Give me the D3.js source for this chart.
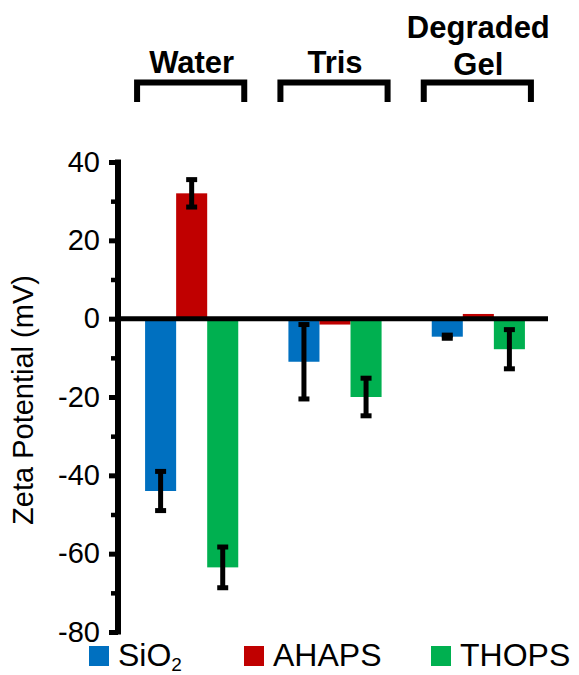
<!DOCTYPE html>
<html>
<head>
<meta charset="utf-8">
<script src="https://cdn.jsdelivr.net/npm/d3@7"></script>
<style>
html,body{margin:0;padding:0;background:#fff;}
svg{display:block;}
text{font-family:"Liberation Sans", Arial, sans-serif;fill:#000;}
</style>
</head>
<body>
<svg id="chart" width="579" height="675"></svg>
<script>
// ---- data ----
const groups = ["Water", "Tris", "Degraded Gel"];
const groupLines = [["Water"], ["Tris"], ["Degraded", "Gel"]];
const seriesNames = ["SiO2", "AHAPS", "THOPS"];
const seriesColors = ["#0070C0", "#C00000", "#00B050"];
const sio2Values = [-44, -11, -4.6];
const ahapsValues = [32, -1.5, 1.2];
const thopsValues = [-63.5, -20, -7.8];
const sio2Errors = [5, 9.5, 0.4];
const ahapsErrors = [3.5, 0, 0];
const thopsErrors = [5.2, 4.8, 5];
const yTicks = [40, 20, 0, -20, -40, -60, -80];
const yMinorTicks = [30, 10, -10, -30, -50, -70];

const values = [sio2Values, ahapsValues, thopsValues];
const errors = [sio2Errors, ahapsErrors, thopsErrors];
const rows = [];
groups.forEach((g, gi) => seriesNames.forEach((s, si) => {
  rows.push({group: g, series: s, value: values[si][gi], err: errors[si][gi], color: seriesColors[si]});
}));

const svg = d3.select("#chart");

const y = d3.scaleLinear().domain([-80, 40]).range([632, 162]);
const x0 = d3.scaleBand().domain(groups).range([120, 550]).paddingInner(0.35).paddingOuter(0.175);
const x1 = d3.scaleBand().domain(seriesNames).range([0, x0.bandwidth()]).padding(0);

// bars
svg.append("g").selectAll("rect").data(rows).join("rect")
  .attr("x", d => x0(d.group) + x1(d.series))
  .attr("width", x1.bandwidth())
  .attr("y", d => y(Math.max(0, d.value)))
  .attr("height", d => Math.abs(y(d.value) - y(0)))
  .attr("fill", d => d.color);

// error bars
const eb = svg.append("g").selectAll("g").data(rows.filter(d => d.err > 0)).join("g")
  .attr("transform", d => `translate(${x0(d.group) + x1(d.series) + x1.bandwidth() / 2},0)`);
eb.append("line")
  .attr("y1", d => y(d.value + d.err)).attr("y2", d => y(d.value - d.err))
  .attr("stroke", "#000").style("stroke-width", "5px");
eb.append("line")
  .attr("x1", -5.5).attr("x2", 5.5)
  .attr("y1", d => y(d.value + d.err)).attr("y2", d => y(d.value + d.err))
  .attr("stroke", "#000").style("stroke-width", "5px");
eb.append("line")
  .attr("x1", -5.5).attr("x2", 5.5)
  .attr("y1", d => y(d.value - d.err)).attr("y2", d => y(d.value - d.err))
  .attr("stroke", "#000").style("stroke-width", "5px");

// y axis
const yAxis = d3.axisLeft(y).tickValues(yTicks).tickSize(9).tickPadding(9).tickFormat(d => String(d));
const ag = svg.append("g").attr("transform", "translate(118,0)").call(yAxis);
ag.select(".domain").remove();
ag.selectAll(".tick line").attr("stroke", "#000").style("stroke-width", "5px");
ag.selectAll(".tick text").attr("font-size", 29).style("font-size", "29px").attr("fill", "#000");
const minor = d3.axisLeft(y).tickValues(yMinorTicks).tickSize(7).tickFormat("");
const mg = svg.append("g").attr("transform", "translate(118,0)").call(minor);
mg.select(".domain").remove();
mg.selectAll(".tick line").attr("stroke", "#000").style("stroke-width", "4.5px");
svg.append("line").attr("x1", 118).attr("x2", 118)
  .attr("y1", y(40) - 2.5).attr("y2", y(-80) + 2.5)
  .attr("stroke", "#000").style("stroke-width", "6px");

// zero line
svg.append("line").attr("x1", 118).attr("x2", 548).attr("y1", y(0)).attr("y2", y(0))
  .attr("stroke", "#000").style("stroke-width", "5px");

// y title
svg.append("text")
  .attr("transform", `translate(33,400) rotate(-90)`)
  .attr("text-anchor", "middle").attr("font-size", 29)
  .text("Zeta Potential (mV)");

// group brackets & headers
const hdr = svg.append("g").selectAll("g").data(groups).join("g");
hdr.append("path")
  .attr("d", g => `M${x0(g) - 8},102V82.5H${x0(g) + x0.bandwidth() + 6}V102`)
  .attr("fill", "none").attr("stroke", "#000").style("stroke-width", "6px");
hdr.each(function(g, i) {
  const lines = groupLines[i];
  const t = d3.select(this).append("text")
    .attr("text-anchor", "middle").attr("font-weight", "bold").attr("font-size", 31)
    .attr("x", x0(g) + x0.bandwidth() / 2);
  lines.forEach((ln, j) => {
    t.append("tspan").attr("x", x0(g) + x0.bandwidth() / 2)
      .attr("y", 73 - (lines.length - 1 - j) * 37 + (lines.length > 1 ? 2 : 0)).text(ln);
  });
});

// legend
const legendX = [89, 244, 431];
const lg = svg.append("g").selectAll("g").data(seriesNames).join("g")
  .attr("transform", (d, i) => `translate(${legendX[i]},646)`);
lg.append("rect").attr("width", 20).attr("height", 20).attr("fill", (d, i) => seriesColors[i]);
lg.each(function(d) {
  const t = d3.select(this).append("text").attr("x", 29).attr("y", 20).attr("font-size", 32);
  if (d === "SiO2") {
    t.append("tspan").text("SiO");
    t.append("tspan").attr("font-size", 19).attr("dy", 5).text("2");
  } else {
    t.text(d);
  }
});
</script>
</body>
</html>
